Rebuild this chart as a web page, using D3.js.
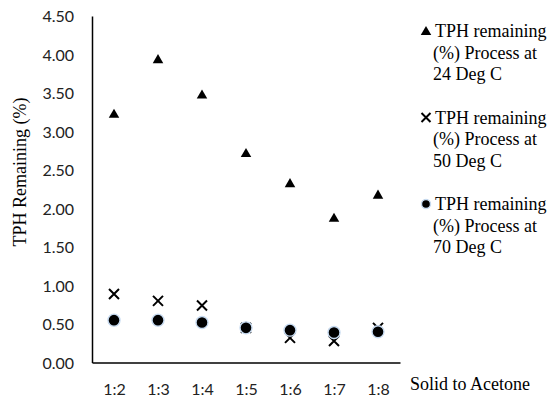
<!DOCTYPE html>
<html>
<head>
<meta charset="utf-8">
<script src="https://cdn.jsdelivr.net/npm/d3@7"></script>
<style>
  body { margin: 0; background: #fff; }
  .tick text { font-family: Lato, sans-serif; font-size: 16px; fill: #222; }
  .serif { font-family: "Liberation Serif", "Times New Roman", serif; font-size: 18px; fill: #000; }
</style>
</head>
<body>
<div class="chart"></div>
<script>
// data
var categories = ["1:2", "1:3", "1:4", "1:5", "1:6", "1:7", "1:8"];
var deg24 = [3.23, 3.94, 3.48, 2.72, 2.33, 1.88, 2.18];
var deg50 = [0.89, 0.80, 0.74, 0.45, 0.32, 0.28, 0.45];
var deg70 = [0.55, 0.55, 0.52, 0.45, 0.42, 0.39, 0.40];
var yTicks = [0, 0.5, 1, 1.5, 2, 2.5, 3, 3.5, 4, 4.5];
var legendLabels = [
  ["TPH remaining", "(%) Process at", "24 Deg C"],
  ["TPH remaining", "(%) Process at", "50 Deg C"],
  ["TPH remaining", "(%) Process at", "70 Deg C"]
];

var svgWidth = 551;
var svgHeight = 401;

var svg = d3.select(".chart")
  .append("svg")
  .attr("width", svgWidth)
  .attr("height", svgHeight);

var xScale = d3.scalePoint()
  .domain(categories)
  .range([92, 400])
  .padding(0.5);

var yScale = d3.scaleLinear()
  .domain([0, 4.5])
  .range([362.5, 16]);

// axes
var leftAxis = d3.axisLeft(yScale)
  .tickValues(yTicks)
  .tickFormat(d3.format(".2f"))
  .tickSize(0)
  .tickPadding(18);

var bottomAxis = d3.axisBottom(xScale)
  .tickSize(0)
  .tickPadding(21);

var yAxisG = svg.append("g")
  .attr("transform", "translate(92,0)")
  .call(leftAxis);

var xAxisG = svg.append("g")
  .attr("transform", "translate(0,362.5)")
  .call(bottomAxis);

svg.selectAll(".domain")
  .attr("stroke", "#000")
  .attr("stroke-width", 1.5);

yAxisG.selectAll(".tick text").attr("dy", "0.35em");

// axis titles
svg.append("text")
  .attr("class", "serif")
  .attr("transform", "translate(26,172) rotate(-90)")
  .attr("text-anchor", "middle")
  .text("TPH Remaining (%)");

svg.append("text")
  .attr("class", "serif")
  .attr("x", 410)
  .attr("y", 390)
  .text("Solid to Acetone");

// marker helpers
var triangle = d3.symbol().type(d3.symbolTriangle).size(48);

function drawTriangle(g, x, y) {
  g.append("path")
    .attr("d", triangle())
    .attr("transform", `translate(${x},${y + 1})`)
    .attr("fill", "#000");
}

function drawCross(g, x, y, s) {
  s = s || 5;
  g.append("path")
    .attr("d", `M${x - s},${y - s}L${x + s},${y + s}M${x - s},${y + s}L${x + s},${y - s}`)
    .attr("stroke", "#000")
    .attr("stroke-width", 2)
    .attr("fill", "none");
}

function drawDot(g, x, y, r) {
  g.append("circle")
    .attr("cx", x)
    .attr("cy", y)
    .attr("r", r || 6)
    .attr("fill", "#000")
    .attr("stroke", "#c6daf0")
    .attr("stroke-width", 1.4);
}

var markers = [drawTriangle, drawCross, drawDot];
var series = [deg24, deg50, deg70];

// points
var pointsGroup = svg.append("g");
series.forEach(function (values, i) {
  values.forEach(function (v, j) {
    markers[i](pointsGroup, xScale(categories[j]), yScale(v));
  });
});

// legend
var legend = svg.append("g");
legendLabels.forEach(function (lines, i) {
  var top = 37 + i * 86.5;
  markers[i](legend, 426, top - 6, i === 1 ? 4.5 : 4.5);
  lines.forEach(function (line, k) {
    legend.append("text")
      .attr("class", "serif")
      .attr("x", k === 0 ? 435 : 433)
      .attr("y", top + k * 21.5)
      .text(line);
  });
});
</script>
</body>
</html>
